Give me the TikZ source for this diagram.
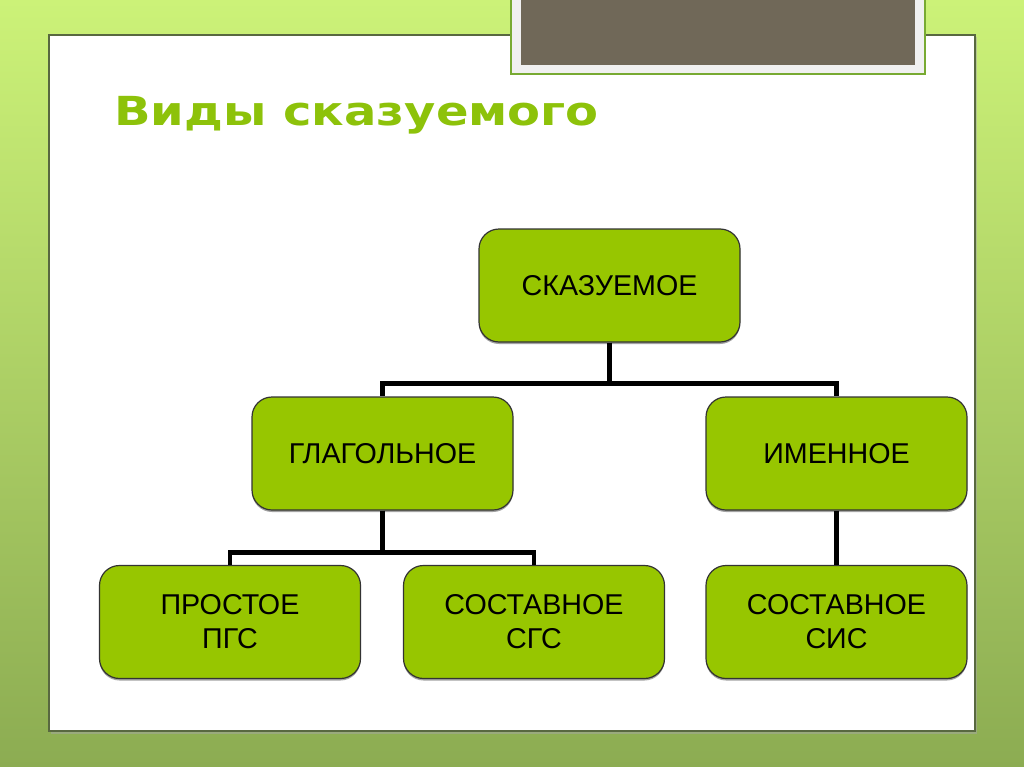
\documentclass[tikz,border=0pt]{standalone}
\usepackage{fontspec}
\setmainfont{Liberation Sans}
\newfontfamily\headfont{DejaVu Sans}[FakeStretch=1.2]
\usetikzlibrary{shadows}

\definecolor{boxgreen}{RGB}{151,198,0}
\definecolor{headgreen}{RGB}{141,194,10}
\definecolor{bgtop}{RGB}{204,242,120}
\definecolor{bgbot}{RGB}{140,172,82}
\definecolor{panelline}{RGB}{88,104,64}
\definecolor{plategray}{RGB}{112,104,88}
\definecolor{plateline}{RGB}{120,170,50}

\tikzset{
  kindbox/.style={draw=black!80, fill=boxgreen, rounded corners=15pt, line width=0.9pt,
    minimum width=195.75pt, minimum height=84.75pt, align=center, font=\fontsize{21.5}{25.5}\selectfont,
    drop shadow={shadow xshift=0pt, shadow yshift=-1.5pt, fill=black!60, opacity=0.6}},
  link/.style={line width=3.6pt, black}
}

\begin{document}
\begin{tikzpicture}[x=0.75pt,y=0.75pt,yscale=-1,xscale=1]
\useasboundingbox (0,0) rectangle (1024,767);

%Background
\shade[top color=bgtop, bottom color=bgbot] (0,0) rectangle (1024,767);
%Panel
\fill[black!35, opacity=0.5] (51,37) rectangle (977,734);
\draw[panelline, line width=1pt, fill=white] (49,35) rectangle (975,731);
%Plate
\draw[plateline, line width=1.2pt, fill=white!94!black] (511,-2) rectangle (925,74);
\fill[plategray] (521,-2) rectangle (915,65);

% Title
\node[anchor=base west, inner sep=0, text=headgreen, font=\headfont\bfseries\fontsize{30}{34}\selectfont] (title) at (114,125) {Виды сказуемого};

% Boxes
\node[kindbox] (pred) at (609.5,285.5) {СКАЗУЕМОЕ};
\node[kindbox] (verb) at (382.5,453.5) {ГЛАГОЛЬНОЕ};
\node[kindbox] (noun) at (836.5,453.5) {ИМЕННОЕ};
\node[kindbox] (simple) at (230,622) {ПРОСТОЕ\\ПГС};
\node[kindbox] (compverb) at (534,622) {СОСТАВНОЕ\\СГС};
\node[kindbox] (compnoun) at (836.5,622) {СОСТАВНОЕ\\СИС};

% Links
\draw[link] (pred.south) -- ++(0,41) -| (verb.north);
\draw[link] (pred.south) -- ++(0,41) -| (noun.north);
\draw[link] (verb.south) -- ++(0,42) -| (simple.north);
\draw[link] (verb.south) -- ++(0,42) -| (compverb.north);
\draw[link] (noun.south) -- (compnoun.north);

\end{tikzpicture}
\end{document}
